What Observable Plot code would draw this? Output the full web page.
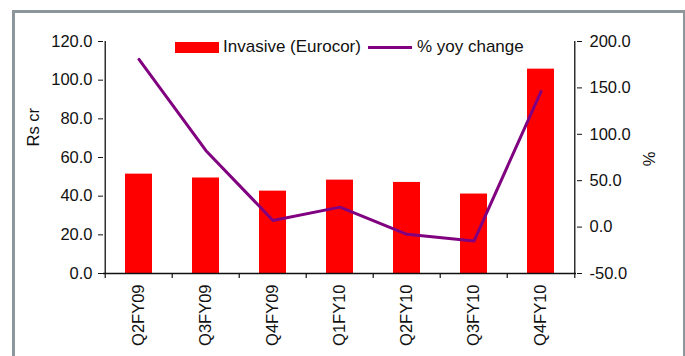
<!DOCTYPE html>
<html>
<head>
<meta charset="utf-8">
<script src="https://cdn.jsdelivr.net/npm/d3@7"></script>
<script src="https://cdn.jsdelivr.net/npm/@observablehq/plot@0.6"></script>
<style>
  body { margin: 0; background: #fff; font-family: "Liberation Sans", Arial, sans-serif; }
  #wrap { position: relative; width: 685px; height: 356px; overflow: hidden; }
  #border { position: absolute; left: 12px; top: 10px; width: 668px; height: 400px;
            border: 3px solid #8c969b; border-bottom: none; }
  #chart { position: absolute; left: 0; top: 0; }
  #legend { position: absolute; left: 175px; top: 37px; display: flex; align-items: center;
            font-size: 17px; color: #111; white-space: nowrap; }
  .sw { display: inline-block; width: 44px; height: 11px; background: #ff0000; margin-right: 4px; }
  .ln { display: inline-block; width: 44px; height: 3px; background: #800080; margin: 0 5px 0 7px; }
</style>
</head>
<body>
<div id="wrap">
  <div id="border"></div>
  <div id="chart"></div>
  <div id="legend"><span class="sw"></span>Invasive (Eurocor)<span class="ln"></span>% yoy change</div>
</div>
<script>
const quarters = ["Q2FY09", "Q3FY09", "Q4FY09", "Q1FY10", "Q2FY10", "Q3FY10", "Q4FY10"];
const invasive = [51.4, 49.4, 42.6, 48.3, 47.1, 41.1, 105.7];
const yoyChange = [180.7, 82.3, 7.2, 21.5, -7.8, -15.0, 146.0];
const leftTicks = [0, 20, 40, 60, 80, 100, 120];
const rightTicks = [-50, 0, 50, 100, 150, 200];

const W = 685, H = 356;
const mL = 103, mR = 109, mT = 41, mB = 83;
const bw = (W - mL - mR) / quarters.length;
const plotH = H - mT - mB;

// map right (%) axis to left scale domain
const rMin = -50, rMax = 200, lMax = 120;
const toLeft = v => (v - rMin) * lMax / (rMax - rMin);
const fromLeft = d => d * (rMax - rMin) / lMax + rMin;

const rows = quarters.map((q, i) => ({q, inv: invasive[i], yoy: yoyChange[i]}));
const FS = 16.5;

const chart = Plot.plot({
  width: W, height: H,
  marginLeft: mL, marginRight: mR, marginTop: mT, marginBottom: mB,
  style: {fontFamily: "Liberation Sans, Arial, sans-serif", fontSize: FS + "px", color: "#111", background: "transparent"},
  x: {type: "band", domain: quarters, padding: 0, label: null},
  y: {domain: [0, lMax], label: null},
  marks: [
    Plot.barY(rows, {x: "q", y: "inv", fill: "#ff0000", insetLeft: 20, insetRight: 20}),
    Plot.lineY(rows, {x: "q", y: d => toLeft(d.yoy), stroke: "#800080", strokeWidth: 3}),
    // axis lines
    Plot.ruleY([0], {stroke: "#111", strokeWidth: 1.3}),
    Plot.ruleX([quarters[0]], {dx: -bw / 2, stroke: "#111", strokeWidth: 1.3}),
    Plot.ruleX([quarters[quarters.length - 1]], {dx: bw / 2, stroke: "#111", strokeWidth: 1.3}),
    // category boundary ticks
    Plot.ruleX(quarters, {dx: -bw / 2, insetTop: plotH - 5, dy: 5, stroke: "#111", strokeWidth: 1.2}),
    Plot.ruleX([quarters[quarters.length - 1]], {dx: bw / 2, insetTop: plotH - 5, dy: 5, stroke: "#111", strokeWidth: 1.2}),
    Plot.axisX({tickSize: 0, tickRotate: -90, tickPadding: 11, label: null, fontSize: FS}),
    Plot.axisY({anchor: "left", ticks: leftTicks, tickFormat: d => d.toFixed(1), tickSize: 5, tickPadding: 6, label: null, fontSize: FS}),
    Plot.axisY({anchor: "right", ticks: rightTicks.map(toLeft), tickFormat: d => fromLeft(d).toFixed(1), tickSize: 5, tickPadding: 8, label: null, fontSize: FS}),
    Plot.text(["Rs cr"], {frameAnchor: "left", dx: -70, dy: -11, rotate: -90, fontSize: FS}),
    Plot.text(["%"], {frameAnchor: "right", dx: 73, dy: -6, rotate: -90, fontSize: FS})
  ]
});
document.getElementById("chart").appendChild(chart);
</script>
</body>
</html>
